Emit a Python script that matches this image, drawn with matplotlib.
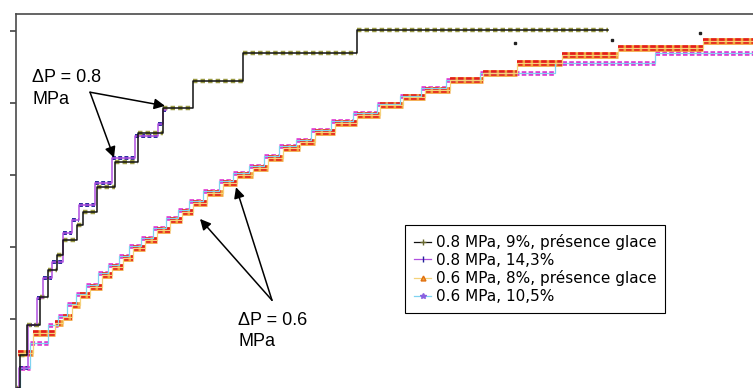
import matplotlib.pyplot as plt
from matplotlib.lines import Line2D

plt.rcParams["font.family"] = ["DejaVu Sans"]

# ── DATA (start of each plateau: time, value) ────────────────────────────────
# 0.8 MPa, 9 %, présence glace
t_08a = [0.1, 0.4, 1.1, 2.4, 3.2, 4.1, 4.7, 6.1, 6.7, 8.1, 9.9, 12.2, 14.7, 17.7, 22.7, 34.1]
v_08a = [0.4, 5.0, 9.2, 13.1, 16.8, 18.9, 21.0, 23.1, 24.9, 28.3, 31.8, 35.8, 39.3, 43.1, 46.9, 50.1]
end_08a = 59.2

# 0.8 MPa, 14,3 %
t_08b = [0.1, 0.3, 1.2, 2.1, 2.7, 3.6, 4.7, 5.6, 6.3, 7.9, 9.6, 11.9, 14.2, 14.7]
v_08b = [0.4, 3.2, 9.2, 12.9, 15.7, 17.9, 21.9, 23.8, 25.8, 28.9, 32.4, 35.4, 37.1, 39.0]
end_08b = 15.0

# 0.6 MPa, 8 %, présence glace
t_06a = [0.2, 1.7, 3.9, 4.7, 5.6, 6.4, 7.4, 8.6, 9.6, 10.7, 11.7, 12.9, 14.1, 15.4, 16.6, 17.7,
         19.1, 20.7, 22.1, 23.7, 25.2, 26.7, 28.4, 29.9, 31.9, 34.1, 36.4, 38.7, 40.9, 43.4,
         46.7, 50.1, 54.6, 60.2, 68.7]
v_06a = [5.3, 8.1, 9.4, 10.3, 11.9, 13.3, 14.4, 16.1, 17.2, 18.5, 19.9, 21.0, 22.4, 23.8, 24.9, 26.1,
         27.5, 28.9, 30.0, 31.0, 32.4, 33.8, 34.6, 36.0, 37.2, 38.3, 39.7, 40.8, 41.8, 43.2,
         44.2, 45.6, 46.7, 47.6, 48.6]
end_06a = 74.4

# 0.6 MPa, 10,5 %
t_06b = [0.1, 0.4, 1.4, 3.2, 4.2, 5.1, 6.0, 7.0, 8.2, 9.2, 10.3, 11.3, 12.5, 13.7, 15.0, 16.2,
         17.3, 18.7, 20.3, 21.7, 23.3, 24.8, 26.3, 28.0, 29.5, 31.5, 33.7, 36.1, 38.4, 40.5,
         43.0, 46.4, 53.9, 63.9]
v_06b = [0.4, 3.2, 6.7, 9.2, 10.4, 12.1, 13.5, 14.7, 16.4, 17.5, 18.8, 20.1, 21.3, 22.6, 24.0, 25.1,
         26.4, 27.8, 29.2, 30.3, 31.3, 32.6, 34.0, 34.9, 36.3, 37.5, 38.6, 39.9, 41.0, 42.1,
         43.2, 44.2, 45.6, 46.9]
end_06b = 74.4

# isolated points
t_stray = [49.9, 59.6, 68.4]
v_stray = [48.3, 48.8, 49.7]

labels = ["0.8 MPa, 9%, présence glace", "0.8 MPa, 14,3%",
          "0.6 MPa, 8%, présence glace", "0.6 MPa, 10,5%"]


def steps(ax, t, v, end, line_col, dot_col, dot_lw, dash, under=None, lw=0.9):
    xs = t + [end]
    ys = v + [v[-1]]
    ends = t[1:] + [end]
    if under:
        ax.hlines(v, t, ends, color=under, lw=dot_lw + 0.8, zorder=2)
    ax.hlines(v, t, ends, color=dot_col, lw=dot_lw, linestyles=[dash], zorder=2)
    ax.step(xs, ys, where="post", color=line_col, lw=lw, zorder=3)


fig = plt.figure(figsize=(7.53, 3.88), dpi=100)
ax = fig.add_axes([16 / 753, -3 / 388, 750 / 753, 377 / 388])

steps(ax, t_06b, v_06b, end_06b, "#7fd3f0", "#e030d0", 3.3, (0, (1.0, 0.5)))
steps(ax, t_06a, v_06a, end_06a, "#f5d27a", "#e41c1c", 4.0, (0, (1.0, 0.45)), under="#f2a23a")
steps(ax, t_08b, v_08b, end_08b, "#b050e0", "#23239a", 2.8, (0, (1.0, 0.6)), lw=1.1)
steps(ax, t_08a, v_08a, end_08a, "#111111", "#9a9a45", 3.2, (0, (1.0, 0.7)), lw=1.1)
ax.plot(t_stray, v_stray, "s", ms=1.5, color="#222222", zorder=4)

ax.set_xlim(0, 75)
ax.set_ylim(0, 377 / 7.2)
ax.set_xticks([])
ax.set_yticks([10, 20, 30, 40, 50])
ax.tick_params(axis="y", direction="out", length=4.5, width=1.1, color="#333333", labelleft=False)
for s in ["right", "bottom"]:
    ax.spines[s].set_visible(False)
for s in ["left", "top"]:
    ax.spines[s].set_color("#4a4a4a")
    ax.spines[s].set_linewidth(1.2)

# ── ANNOTATIONS ──────────────────────────────────────────────────────────────
arrow = dict(arrowstyle="-|>", color="black", lw=1.1, mutation_scale=16, shrinkA=0, shrinkB=0)
ax.text(1.6, 44.7, "ΔP = 0.8\nMPa", fontsize=13, family="Liberation Sans", va="top", linespacing=1.35)
ax.annotate("", xy=(14.9, 39.6), xytext=(7.4, 41.5), arrowprops=arrow)
ax.annotate("", xy=(9.8, 32.4), xytext=(7.4, 41.5), arrowprops=arrow)

ax.text(22.2, 11.0, "ΔP = 0.6\nMPa", fontsize=13, family="Liberation Sans", va="top", linespacing=1.35)
ax.annotate("", xy=(18.4, 23.9), xytext=(25.6, 12.6), arrowprops=arrow)
ax.annotate("", xy=(22.0, 28.3), xytext=(25.6, 12.6), arrowprops=arrow)

# ── LEGEND ───────────────────────────────────────────────────────────────────
handles = [
    Line2D([], [], color="#111111", lw=0.9, marker="+", ms=4, mec="#6a6a30"),
    Line2D([], [], color="#b050e0", lw=0.9, marker="|", ms=4, mec="#23239a"),
    Line2D([], [], color="#f5d27a", lw=0.9, marker="^", ms=3.5, mfc="#f2a23a", mec="#e07010"),
    Line2D([], [], color="#7fd3f0", lw=0.9, marker="*", ms=4, mfc="#8a60e0", mec="#8a60e0"),
]
leg = ax.legend(handles, labels, loc="upper left", bbox_to_anchor=(405 / 753, 1 - 225 / 388),
                bbox_transform=fig.transFigure, borderaxespad=0, fontsize=11,
                handlelength=1.1, handletextpad=0.3, labelspacing=0.17, borderpad=0.6,
                fancybox=False, framealpha=1, edgecolor="black")
leg.get_frame().set_linewidth(0.8)

fig.savefig("out.png", dpi=100)
